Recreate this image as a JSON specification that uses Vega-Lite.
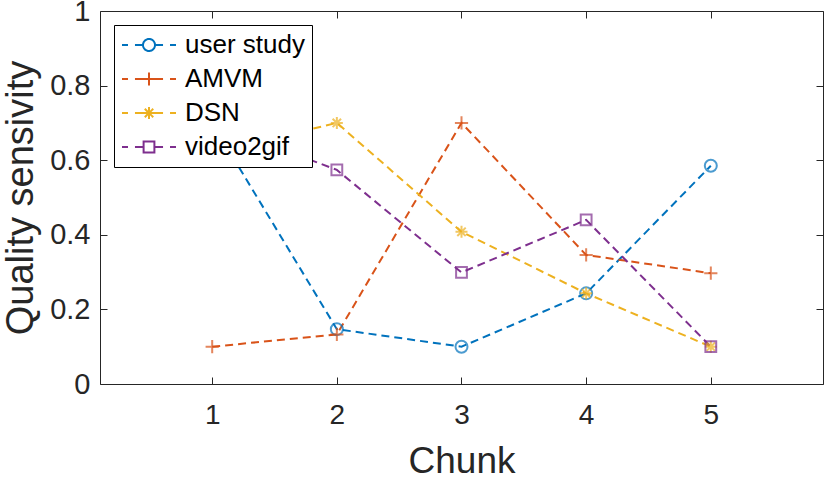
{
  "$schema": "https://vega.github.io/schema/vega-lite/v6.json",
  "width": 723,
  "height": 373,
  "autosize": {"type": "none"},
  "padding": {"left": 100, "top": 11, "right": 8, "bottom": 98},
  "background": "white",
  "config": {
    "view": {"stroke": "#262626", "strokeWidth": 1},
    "font": "Liberation Sans"
  },
  "data": {
    "values": [
      {"chunk": 1, "series": "user study", "value": 0.70},
      {"chunk": 2, "series": "user study", "value": 0.147},
      {"chunk": 3, "series": "user study", "value": 0.10},
      {"chunk": 4, "series": "user study", "value": 0.243},
      {"chunk": 5, "series": "user study", "value": 0.585},
      {"chunk": 1, "series": "AMVM", "value": 0.10},
      {"chunk": 2, "series": "AMVM", "value": 0.133},
      {"chunk": 3, "series": "AMVM", "value": 0.70},
      {"chunk": 4, "series": "AMVM", "value": 0.346},
      {"chunk": 5, "series": "AMVM", "value": 0.297},
      {"chunk": 1, "series": "DSN", "value": 0.62},
      {"chunk": 2, "series": "DSN", "value": 0.70},
      {"chunk": 3, "series": "DSN", "value": 0.408},
      {"chunk": 4, "series": "DSN", "value": 0.243},
      {"chunk": 5, "series": "DSN", "value": 0.10},
      {"chunk": 1, "series": "video2gif", "value": 0.70},
      {"chunk": 2, "series": "video2gif", "value": 0.574},
      {"chunk": 3, "series": "video2gif", "value": 0.299},
      {"chunk": 4, "series": "video2gif", "value": 0.44},
      {"chunk": 5, "series": "video2gif", "value": 0.10}
    ]
  },
  "resolve": {"axis": {"x": "independent", "y": "independent"}},
  "layer": [
    {
      "mark": {"type": "line", "strokeDash": [8, 5], "strokeWidth": 2},
      "encoding": {
        "x": {
          "field": "chunk", "type": "quantitative",
          "scale": {"domain": [0.1, 5.9], "nice": false, "zero": false},
          "axis": {
            "orient": "bottom", "values": [1, 2, 3, 4, 5], "grid": false, "domain": false,
            "tickSize": -7, "tickColor": "#262626", "tickWidth": 1,
            "labelFontSize": 28, "labelColor": "#262626", "labelPadding": 24, "labelFont": "Liberation Sans",
            "title": "Chunk", "titleFontSize": 37, "titleFontWeight": "normal", "titleColor": "#262626",
            "titleFont": "Liberation Sans", "titlePadding": 14
          }
        },
        "y": {
          "field": "value", "type": "quantitative",
          "scale": {"domain": [0, 1], "nice": false},
          "axis": {
            "orient": "left", "values": [0, 0.2, 0.4, 0.6, 0.8, 1], "format": ".1~f", "grid": false, "domain": false,
            "tickSize": -7, "tickColor": "#262626", "tickWidth": 1, "labelFlush": false,
            "labelFontSize": 29, "labelColor": "#262626", "labelPadding": 17, "labelFont": "Liberation Sans",
            "title": "Quality sensivity", "titleFontSize": 38, "titleFontWeight": "normal", "titleColor": "#262626",
            "titleFont": "Liberation Sans", "titlePadding": 9
          }
        },
        "color": {
          "field": "series", "type": "nominal",
          "scale": {"domain": ["user study", "AMVM", "DSN", "video2gif"], "range": ["#0072BD", "#D95319", "#EDB120", "#7E2F8E"]},
          "legend": {
            "title": null, "orient": "top-left", "offset": 14, "padding": 7,
            "strokeColor": "black", "fillColor": "white",
            "labelFontSize": 26, "labelColor": "black", "labelFont": "Liberation Sans",
            "symbolSize": 576, "symbolStrokeWidth": 2, "symbolOffset": 15, "labelOffset": 23, "rowPadding": 8,
            "encode": {
              "symbols": {
                "update": {
                  "shape": {"signal": "datum.value === 'user study' ? 'M-2.25,0H-1.75M-1.17,0H-0.5M0.5,0H1.17M1.75,0H2.25M0.5,0A0.5,0.5,0,1,1,-0.5,0A0.5,0.5,0,1,1,0.5,0Z' : datum.value === 'AMVM' ? 'M-2.25,0H-1.75M-1.17,0H1.17M1.75,0H2.25M0,-0.55V0.55' : datum.value === 'DSN' ? 'M-2.25,0H-1.75M-1.17,0H1.17M1.75,0H2.25M0,-0.5V0.5M-0.35,-0.35L0.35,0.35M-0.35,0.35L0.35,-0.35' : 'M-2.25,0H-1.75M-1.17,0H-0.45M0.45,0H1.17M1.75,0H2.25M-0.45,-0.45H0.45V0.45H-0.45Z'"},
                  "stroke": {"scale": "color", "field": "value"},
                  "fill": {"value": "transparent"},
                  "strokeDash": {"value": [1, 0]},
                  "strokeWidth": {"value": 2}
                }
              }
            }
          }
        }
      }
    },
    {
      "transform": [{"filter": "datum.series === 'user study'"}],
      "mark": {"type": "point", "filled": false, "strokeWidth": 2, "size": 576, "shape": "M0.5,0A0.5,0.5,0,1,1,-0.5,0A0.5,0.5,0,1,1,0.5,0Z"},
      "encoding": {
        "x": {
          "field": "chunk", "type": "quantitative",
          "axis": {"orient": "top", "values": [1, 2, 3, 4, 5], "grid": false, "domain": false, "labels": false, "title": null, "tickSize": -7, "tickColor": "#262626", "tickWidth": 1}
        },
        "y": {
          "field": "value", "type": "quantitative",
          "axis": {"orient": "right", "values": [0, 0.2, 0.4, 0.6, 0.8, 1], "grid": false, "domain": false, "labels": false, "title": null, "tickSize": -7, "tickColor": "#262626", "tickWidth": 1}
        },
        "color": {"field": "series", "type": "nominal", "legend": null}
      }
    },
    {
      "transform": [{"filter": "datum.series === 'AMVM'"}],
      "mark": {"type": "point", "filled": false, "strokeWidth": 2, "size": 576, "shape": "M-0.55,0H0.55M0,-0.55V0.55"},
      "encoding": {
        "x": {"field": "chunk", "type": "quantitative", "axis": null},
        "y": {"field": "value", "type": "quantitative", "axis": null},
        "color": {"field": "series", "type": "nominal", "legend": null}
      }
    },
    {
      "transform": [{"filter": "datum.series === 'DSN'"}],
      "mark": {"type": "point", "filled": false, "strokeWidth": 2, "size": 576, "shape": "M-0.5,0H0.5M0,-0.5V0.5M-0.35,-0.35L0.35,0.35M-0.35,0.35L0.35,-0.35"},
      "encoding": {
        "x": {"field": "chunk", "type": "quantitative", "axis": null},
        "y": {"field": "value", "type": "quantitative", "axis": null},
        "color": {"field": "series", "type": "nominal", "legend": null}
      }
    },
    {
      "transform": [{"filter": "datum.series === 'video2gif'"}],
      "mark": {"type": "point", "filled": false, "strokeWidth": 2, "size": 576, "shape": "M-0.45,-0.45H0.45V0.45H-0.45Z"},
      "encoding": {
        "x": {"field": "chunk", "type": "quantitative", "axis": null},
        "y": {"field": "value", "type": "quantitative", "axis": null},
        "color": {"field": "series", "type": "nominal", "legend": null}
      }
    }
  ]
}
